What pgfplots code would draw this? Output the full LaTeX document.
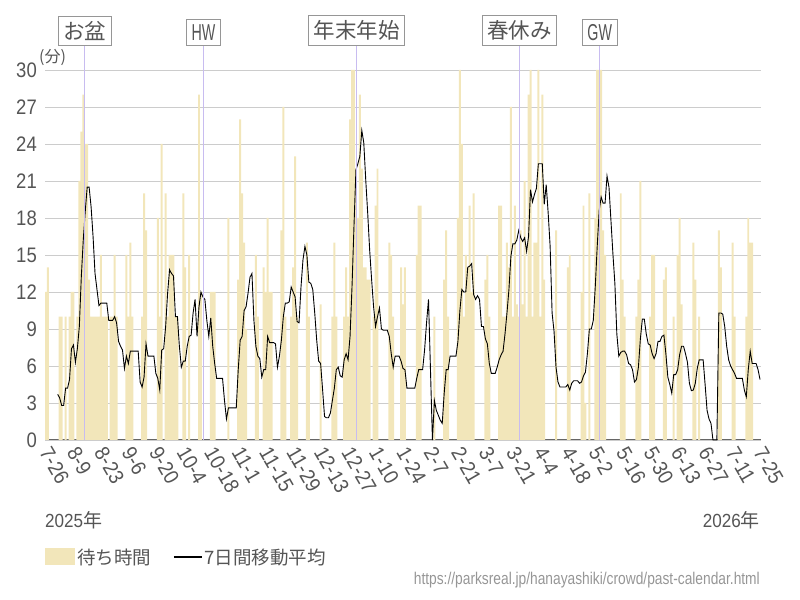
\documentclass[border=0pt]{standalone}
\usepackage{fontspec}
\usepackage{pgfplots}
\pgfplotsset{compat=1.18}
\setmainfont{Noto Sans CJK JP}
\newfontfamily\cjk{Noto Sans CJK JP}
\newfontfamily\ytfont{Liberation Sans}[FakeStretch=0.88]
\newfontfamily\xtfont{Liberation Sans}[FakeStretch=0.9]
\newfontfamily\gwfont{Liberation Sans}[FakeStretch=0.62]
\newfontfamily\urlfont{Liberation Sans}[FakeStretch=0.81]
\newfontfamily\yrfont{Liberation Sans}[FakeStretch=0.9]
\definecolor{barc}{RGB}{242,230,186}
\definecolor{evc}{RGB}{200,188,240}
\definecolor{gridc}{RGB}{204,204,204}
\definecolor{txtc}{RGB}{85,85,85}
\definecolor{boxc}{RGB}{150,150,150}
\definecolor{urlc}{RGB}{150,150,150}
\tikzset{evbox/.style={anchor=south, draw=boxc, line width=1bp, fill=white, text=txtc, inner xsep=5bp, inner ysep=5bp}}
\begin{document}
\begin{tikzpicture}[x=1bp,y=1bp]
\path[use as bounding box] (0,0) rectangle (800,600);
\begin{axis}[
  at={(45bp,160bp)}, anchor=south west, scale only axis,
  width=716bp, height=370bp,
  xmin=-0.5, xmax=364.5, ymin=0, ymax=30, clip=false,
  axis x line*=bottom, axis y line*=left,
  y axis line style={draw=none},
  x axis line style={draw=black!60, line width=1bp},
  major tick length=0pt,
  ytick={0,3,...,30}, ymajorgrids,
  grid style={gridc, line width=0.8bp},
  xtick={0,14,...,364},
  xticklabels={7-26,8-9,8-23,9-6,9-20,10-4,10-18,11-1,11-15,11-29,12-13,12-27,1-10,1-24,2-7,2-21,3-7,3-21,4-4,4-18,5-2,5-16,5-30,6-13,6-27,7-11,7-25},
  xticklabel style={yshift=-9bp, xshift=-1bp, rotate=-60, anchor=west, inner sep=0pt, font=\xtfont\fontsize{21bp}{24bp}\selectfont, text=txtc},
  yticklabel style={anchor=east, inner sep=0pt, xshift=-8bp, font=\ytfont\fontsize{21bp}{24bp}\selectfont, text=txtc},
  /pgf/number format/assume math mode=true,
  legend style={at={(axis description cs:0,-0.3162)}, anchor=west, draw=none, fill=none, inner sep=0pt,
    font=\cjk\fontsize{18.5bp}{22bp}\selectfont, text=txtc,
    /tikz/every even column/.append style={column sep=20bp}},
  legend columns=-1, legend cell align=left,
]
\addplot[ybar, bar width=1, bar shift=0pt, fill=barc, draw=none,
  legend image code/.code={\fill[barc] (0bp,-8.5bp) rectangle (30bp,8.5bp);}]
coordinates {
(0,12)(1,14)(7,10)(8,10)(10,10)(12,10)(13,12)(14,12)(16,10)(17,21)(18,25)(19,28)(20,24)(21,24)(22,13)
(23,10)(24,10)(25,10)(26,10)(27,10)(28,15)(29,10)(30,10)(31,10)(33,10)(34,10)(35,15)(36,10)
(41,15)(42,10)(43,16)(44,10)(49,10)(50,20)(51,17)(57,18)(58,10)(59,24)
(61,20)(62,10)(63,15)(64,15)(65,15)(66,10)(67,10)(70,20)(71,14)(73,15)(78,28)(79,12)
(84,12)(85,12)(86,12)(93,18)(98,13)(99,26)(100,20)(101,16)(102,9)(107,15)(108,10)
(111,14)(112,12)(113,18)(114,12)(115,12)(120,17)(121,27)(122,10)(125,10)(126,14)(127,23)(128,10)
(133,16)(134,10)(140,11)(146,10)(147,16)(148,10)(152,10)(153,14)(154,10)(155,26)(156,30)(157,30)
(158,22)(159,18)(160,28)(161,22)(162,14)(163,14)(164,13)(165,13)(167,10)(168,19)(169,22)
(175,16)(176,15)(177,10)(181,14)(182,11)(183,14)(189,15)(190,19)(191,19)(198,10)(203,13)(204,17)(205,10)
(210,18)(211,30)(212,24)(213,10)(214,15)(215,14)(216,19)(217,12)(218,20)(224,13)(225,15)(226,10)
(231,19)(232,19)(233,10)(234,10)(235,16)(236,14)(237,27)(238,10)(239,19)(240,11)(241,10)(242,17)(243,11)(244,21)
(245,10)(246,28)(247,30)(248,10)(249,16)(250,16)(251,30)(252,10)(253,28)(254,13)(260,17)(266,14)(267,15)
(273,12)(274,19)(275,3)(277,20)(280,18)(281,30)(282,30)(283,30)(284,17)(285,15)(293,20)(294,13)(295,10)
(301,10)(302,13)(303,21)(308,10)(309,15)(310,15)(315,13)(316,14)(320,10)(322,15)(323,18)(324,11)
(330,16)(331,13)(333,10)(343,17)(344,14)(350,16)(351,10)(357,10)(358,18)(359,16)(360,16)
};
\addlegendentry{待ち時間}
\addplot[black, line width=0.9bp, mark=none,
  legend image code/.code={\draw[black, line width=1.2bp] (0bp,0bp) -- (28bp,0bp);}]
coordinates {
(6,3.7)(7,3.4)(8,2.8)(9,2.8)(10,4.2)(11,4.2)(12,4.9)(13,7.4)(14,7.7)(15,6.3)(16,7.4)(17,9.2)(18,13.2)(19,16.2)
(20,18.5)(21,20.5)(22,20.5)(23,18.9)(24,16.5)(25,13.5)(26,12.2)(27,10.9)(28,11.1)(29,11.1)(30,11.1)(31,11.1)
(32,9.7)(33,9.7)(34,9.7)(35,10.0)(36,9.5)(37,8.0)(38,7.6)(39,7.3)(40,5.8)(41,6.8)(42,6.2)(43,7.2)(44,7.2)
(45,7.2)(46,7.2)(47,7.2)(48,4.7)(49,4.3)(50,5.1)(51,7.8)(52,6.8)(53,6.8)(54,6.8)(55,6.8)(56,5.4)(57,5.0)
(58,4.05)(59,7.3)(60,7.4)(61,9.2)(62,11.9)(63,13.8)(64,13.5)(65,13.3)(66,10.0)(67,10.0)(68,7.6)(69,5.9)
(70,6.4)(71,6.4)(72,7.6)(73,8.4)(74,8.5)(75,10.3)(76,11.4)(77,8.4)(78,10.8)(79,12.0)(80,11.6)(81,11.4)
(82,9.7)(83,8.4)(84,9.9)(85,7.6)(86,6.2)(87,5.0)(88,5.0)(89,5.0)(90,5.0)(91,3.2)(92,1.7)(93,2.6)(94,2.6)
(95,2.6)(96,2.6)(97,2.6)(98,5.7)(99,8.1)(100,8.4)(101,10.5)(102,10.8)(103,11.9)(104,13.2)(105,13.5)
(106,9.7)(107,7.6)(108,6.8)(109,6.6)(110,5.1)(111,5.7)(112,5.7)(113,8.4)(114,7.9)(115,7.9)(116,7.9)
(117,7.8)(118,5.9)(119,6.8)(120,8.1)(121,10.0)(122,11.1)(123,11.1)(124,11.2)(125,12.4)(126,12.0)
(127,11.6)(128,9.6)(129,9.5)(130,12.4)(131,14.6)(132,15.7)(133,15.0)(134,12.8)(135,12.7)(136,12.2)
(137,10.3)(138,8.1)(139,6.4)(140,6.2)(141,4.1)(142,1.9)(143,1.8)(144,1.8)(145,2.2)(146,3.2)(147,4.2)
(148,5.7)(149,5.9)(150,5.2)(151,5.1)(152,6.5)(153,7.0)(154,6.5)(155,8.4)(156,12.4)(157,17.3)(158,21.9)
(159,22.4)(160,23.0)(161,25.1)(162,24.1)(163,21.1)(164,18.4)(165,15.4)(166,13.0)(167,10.8)(168,9.2)
(169,10.0)(170,10.7)(171,9.0)(172,8.9)(173,8.9)(174,8.9)(175,8.4)(176,7.0)(177,5.9)(178,6.8)(179,6.8)
(180,6.8)(181,6.4)(182,5.8)(183,5.7)(184,4.2)(185,4.2)(186,4.2)(187,4.2)(188,4.2)(189,5.0)(190,5.7)
(191,5.7)(192,5.7)(193,7.3)(194,9.5)(195,11.4)(196,5.7)(197,0)(198,3.2)(199,2.4)(200,2.0)(201,1.6)
(202,1.35)(203,3.8)(204,5.7)(205,5.7)(206,6.8)(207,6.8)(208,6.8)(209,6.8)(210,8.0)(211,10.5)(212,12.2)
(213,12.0)(214,12.0)(215,14.0)(216,14.1)(217,14.3)(218,11.8)(219,11.4)(220,11.7)(221,11.4)(222,9.2)
(223,9.2)(224,8.2)(225,7.8)(226,6.2)(227,5.4)(228,5.4)(229,5.4)(230,5.9)(231,6.5)(232,6.9)(233,7.2)
(234,8.6)(235,10.3)(236,12.2)(237,14.9)(238,15.9)(239,15.9)(240,16.2)(241,17.0)(242,16.4)(243,16.1)
(244,16.4)(245,15.3)(246,16.5)(247,20.3)(248,19.3)(249,19.9)(250,20.4)(251,22.4)(252,22.4)(253,22.4)
(254,19.1)(255,20.7)(256,18.4)(257,15.7)(258,10.3)(259,8.8)(260,5.9)(261,4.7)(262,4.3)(263,4.3)
(264,4.3)(265,4.3)(266,4.5)(267,4.05)(268,4.6)(269,4.8)(270,4.8)(271,4.8)(272,4.6)(273,4.7)(274,5.2)
(275,5.5)(276,7.0)(277,9.0)(278,9.0)(279,9.7)(280,12.4)(281,15.7)(282,18.6)(283,19.7)(284,19.2)
(285,19.2)(286,21.4)(287,20.5)(288,17.8)(289,15.1)(290,12.7)(291,8.6)(292,6.8)(293,7.1)(294,7.2)
(295,7.2)(296,6.9)(297,6.2)(298,6.1)(299,5.7)(300,4.7)(301,4.9)(302,5.9)(303,8.2)(304,9.8)(305,9.8)
(306,8.6)(307,7.8)(308,7.7)(309,7.0)(310,6.6)(311,7.0)(312,8.0)(313,8.0)(314,8.4)(315,8.5)(316,7.0)
(317,5.1)(318,4.5)(319,3.8)(320,5.3)(321,5.3)(322,5.7)(323,6.9)(324,7.6)(325,7.6)(326,7.0)(327,6.3)
(328,4.6)(329,4.0)(330,4.05)(331,4.6)(332,5.8)(333,6.5)(334,6.5)(335,6.5)(336,4.5)(337,2.4)(338,1.7)
(339,1.35)(340,0)(341,0)(342,0)(343,10.3)(344,10.3)(345,10.2)(346,9.2)(347,7.6)(348,6.5)(349,6.0)
(350,5.7)(351,5.4)(352,5.0)(353,5.0)(354,5.0)(355,5.0)(356,4.05)(357,3.5)(358,5.7)(359,7.2)(360,6.2)
(361,6.2)(362,6.2)(363,5.7)(364,4.9)
};
\addlegendentry{7日間移動平均}
\draw[evc, line width=1bp] (axis cs:19.7,0) -- (axis cs:19.7,31.95) node[evbox, font=\cjk\fontsize{21.5bp}{24bp}\selectfont]{お盆};
\draw[evc, line width=1bp] (axis cs:80.3,0) -- (axis cs:80.3,31.95) node[evbox, font=\gwfont\fontsize{23bp}{26bp}\selectfont]{HW};
\draw[evc, line width=1bp] (axis cs:158.5,0) -- (axis cs:158.5,31.95) node[evbox, font=\cjk\fontsize{21.5bp}{24bp}\selectfont]{年末年始};
\draw[evc, line width=1bp] (axis cs:241.5,0) -- (axis cs:241.5,31.95) node[evbox, font=\cjk\fontsize{21.5bp}{24bp}\selectfont]{春休み};
\draw[evc, line width=1bp] (axis cs:282.3,0) -- (axis cs:282.3,31.95) node[evbox, font=\gwfont\fontsize{23bp}{26bp}\selectfont]{GW};
\end{axis}
\node[anchor=west, inner sep=0pt, text=txtc, font=\cjk\fontsize{16bp}{18bp}\selectfont] at (39,542.5) {(分)};
\node[anchor=west, inner sep=0pt, text=txtc] at (45,80) {{\yrfont\fontsize{19bp}{22bp}\selectfont 2025}{\cjk\fontsize{19bp}{22bp}\selectfont 年}};
\node[anchor=east, inner sep=0pt, text=txtc] at (760,80) {{\yrfont\fontsize{19bp}{22bp}\selectfont 2026}{\cjk\fontsize{19bp}{22bp}\selectfont 年}};
\node[anchor=east, inner sep=0pt, text=urlc, font=\urlfont\fontsize{17bp}{20bp}\selectfont] at (760,20) {https://parksreal.jp/hanayashiki/crowd/past-calendar.html};
\end{tikzpicture}
\end{document}
